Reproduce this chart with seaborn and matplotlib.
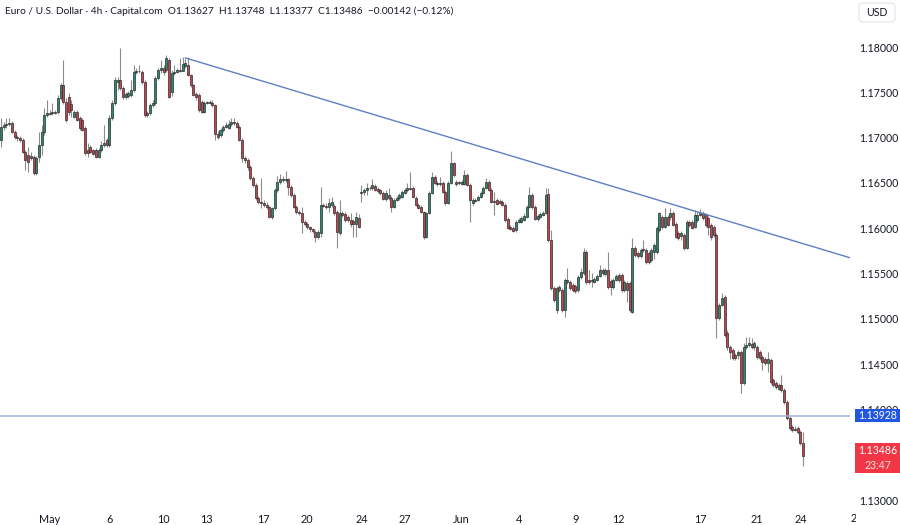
import numpy as np
import pandas as pd
import matplotlib
matplotlib.use("Agg")
import matplotlib.pyplot as plt
import seaborn as sns
from matplotlib.patches import FancyBboxPatch, Rectangle

# ---------------- data (EUR/USD, 4h candles) ----------------
opens = [
    1.1697, 1.1712, 1.1714, 1.1715, 1.1716, 1.1706, 1.1701, 1.1700, 1.1697, 1.1684,
    1.1681, 1.1678, 1.1679, 1.1661, 1.1679, 1.1692, 1.1706, 1.1725, 1.1727, 1.1727,
    1.1728, 1.1728, 1.1744, 1.1758, 1.1739, 1.1745, 1.1737, 1.1723, 1.1728, 1.1722,
    1.1719, 1.1711, 1.1686, 1.1690, 1.1686, 1.1686, 1.1679, 1.1686, 1.1692, 1.1697,
    1.1692, 1.1722, 1.1738, 1.1761, 1.1764, 1.1755, 1.1745, 1.1746, 1.1747, 1.1753,
    1.1772, 1.1773, 1.1772, 1.1761, 1.1727, 1.1727, 1.1736, 1.1738, 1.1766, 1.1775,
    1.1777, 1.1775, 1.1786, 1.1750, 1.1771, 1.1772, 1.1775, 1.1774, 1.1779, 1.1780,
    1.1769, 1.1758, 1.1748, 1.1747, 1.1739, 1.1728, 1.1738, 1.1739, 1.1738, 1.1736,
    1.1704, 1.1703, 1.1708, 1.1712,
    1.1711, 1.1715, 1.1717, 1.1716, 1.1712, 1.1697, 1.1678, 1.1675, 1.1668, 1.1655,
    1.1648, 1.1633, 1.1629, 1.1628, 1.1626, 1.1624, 1.1612, 1.1622, 1.1642, 1.1651,
    1.1653, 1.1653, 1.1654, 1.1646, 1.1637, 1.1624, 1.1618, 1.1617, 1.1607, 1.1605,
    1.1601, 1.1599, 1.1596, 1.1590, 1.1595, 1.1626, 1.1625, 1.1624, 1.1626, 1.1625,
    1.1618, 1.1595, 1.1617, 1.1616, 1.1612, 1.1609, 1.1608, 1.1605, 1.1611,
    1.1639, 1.1640, 1.1642, 1.1644, 1.1645, 1.1647, 1.1643, 1.1642, 1.1639, 1.1632,
    1.1637, 1.1633, 1.1624, 1.1631,
    1.1633, 1.1635, 1.1639, 1.1642, 1.1644, 1.1644, 1.1633, 1.1626, 1.1624, 1.1618,
    1.1590, 1.1617, 1.1639, 1.1657, 1.1650, 1.1649, 1.1650, 1.1640, 1.1628, 1.1650,
    1.1672, 1.1651, 1.1650, 1.1649, 1.1649, 1.1659, 1.1648, 1.1628, 1.1630, 1.1631,
    1.1635, 1.1639, 1.1644, 1.1651, 1.1642, 1.1630, 1.1631, 1.1630, 1.1629, 1.1626,
    1.1610, 1.1601, 1.1600, 1.1598, 1.1607, 1.1607, 1.1609, 1.1612, 1.1624, 1.1637,
    1.1624, 1.1610, 1.1612, 1.1615, 1.1617, 1.1638, 1.1587,
    1.1534, 1.1510, 1.1535, 1.1532, 1.1510, 1.1541, 1.1541, 1.1537, 1.1536, 1.1532,
    1.1546, 1.1551, 1.1574, 1.1543, 1.1542, 1.1541, 1.1543, 1.1547, 1.1554, 1.1550,
    1.1554, 1.1542, 1.1535, 1.1543, 1.1549, 1.1549, 1.1532, 1.1540, 1.1540, 1.1508,
    1.1578, 1.1573, 1.1569, 1.1576, 1.1576, 1.1573, 1.1565, 1.1574, 1.1574, 1.1598,
    1.1612, 1.1601, 1.1612, 1.1612, 1.1617, 1.1605, 1.1595, 1.1592, 1.1593, 1.1578,
    1.1607, 1.1607, 1.1601, 1.1609, 1.1615, 1.1617, 1.1615, 1.1611, 1.1604, 1.1601,
    1.1593, 1.1501, 1.1515, 1.1524, 1.1485, 1.1469, 1.1466, 1.1460, 1.1460, 1.1464,
    1.1429, 1.1469, 1.1471, 1.1472, 1.1469, 1.1469, 1.1464, 1.1458, 1.1456, 1.1451,
    1.1455, 1.1433, 1.1429, 1.1423, 1.1427, 1.1422, 1.1408, 1.1391, 1.1381, 1.1379,
    1.1380, 1.1375, 1.13627,
]
highs = [
    1.1722, 1.1717, 1.1722, 1.1722, 1.1718, 1.1708, 1.1703, 1.1702, 1.1700, 1.1686,
    1.1690, 1.1684, 1.1681, 1.1680, 1.1706, 1.1714, 1.1733, 1.1741, 1.1730, 1.1738,
    1.1730, 1.1747, 1.1760, 1.1786, 1.1744, 1.1749, 1.1741, 1.1730, 1.1730, 1.1724,
    1.1722, 1.1713, 1.1694, 1.1692, 1.1687, 1.1689, 1.1689, 1.1696, 1.1714, 1.1700,
    1.1725, 1.1741, 1.1767, 1.1767, 1.1799, 1.1757, 1.1750, 1.1751, 1.1764, 1.1780,
    1.1777, 1.1780, 1.1775, 1.1764, 1.1729, 1.1738, 1.1741, 1.1768, 1.1777, 1.1786,
    1.1780, 1.1791, 1.1788, 1.1775, 1.1780, 1.1777, 1.1788, 1.1789, 1.1787, 1.1789,
    1.1770, 1.1759, 1.1750, 1.1749, 1.1741, 1.1740, 1.1740, 1.1741, 1.1741, 1.1737,
    1.1707, 1.1711, 1.1714, 1.1717,
    1.1719, 1.1722, 1.1722, 1.1718, 1.1714, 1.1700, 1.1680, 1.1678, 1.1670, 1.1658,
    1.1650, 1.1636, 1.1655, 1.1631, 1.1629, 1.1625, 1.1624, 1.1644, 1.1658, 1.1660,
    1.1658, 1.1663, 1.1655, 1.1648, 1.1639, 1.1626, 1.1620, 1.1624, 1.1609, 1.1607,
    1.1603, 1.1600, 1.1598, 1.1598, 1.1646, 1.1628, 1.1628, 1.1633, 1.1635, 1.1627,
    1.1620, 1.1631, 1.1619, 1.1618, 1.1615, 1.1617, 1.1610, 1.1618, 1.1616,
    1.1648, 1.1644, 1.1650, 1.1647, 1.1654, 1.1649, 1.1646, 1.1643, 1.1641, 1.1642,
    1.1644, 1.1636, 1.1633, 1.1636,
    1.1639, 1.1642, 1.1644, 1.1650, 1.1662, 1.1647, 1.1636, 1.1628, 1.1626, 1.1619,
    1.1618, 1.1641, 1.1662, 1.1659, 1.1652, 1.1657, 1.1652, 1.1642, 1.1652, 1.1685,
    1.1673, 1.1653, 1.1652, 1.1653, 1.1664, 1.1661, 1.1650, 1.1633, 1.1633, 1.1637,
    1.1641, 1.1647, 1.1655, 1.1653, 1.1644, 1.1640, 1.1633, 1.1632, 1.1631, 1.1628,
    1.1612, 1.1604, 1.1603, 1.1609, 1.1611, 1.1614, 1.1617, 1.1626, 1.1646, 1.1639,
    1.1626, 1.1616, 1.1618, 1.1619, 1.1644, 1.1644, 1.1598,
    1.1536, 1.1536, 1.1537, 1.1534, 1.1545, 1.1556, 1.1543, 1.1540, 1.1539, 1.1549,
    1.1556, 1.1578, 1.1576, 1.1554, 1.1551, 1.1546, 1.1550, 1.1560, 1.1556, 1.1556,
    1.1574, 1.1544, 1.1545, 1.1550, 1.1551, 1.1551, 1.1543, 1.1542, 1.1542, 1.1589,
    1.1581, 1.1575, 1.1578, 1.1587, 1.1578, 1.1575, 1.1578, 1.1584, 1.1603, 1.1618,
    1.1615, 1.1622, 1.1615, 1.1622, 1.1619, 1.1607, 1.1597, 1.1597, 1.1595, 1.1609,
    1.1609, 1.1609, 1.1620, 1.1618, 1.1621, 1.1619, 1.1617, 1.1614, 1.1606, 1.1604,
    1.1595, 1.1518, 1.1529, 1.1526, 1.1488, 1.1471, 1.1468, 1.1462, 1.1466, 1.1466,
    1.1474, 1.1480, 1.1480, 1.1479, 1.1476, 1.1471, 1.1466, 1.1460, 1.1458, 1.1464,
    1.1457, 1.1435, 1.1432, 1.1429, 1.1438, 1.1424, 1.1411, 1.1393, 1.1383, 1.1382,
    1.1382, 1.1378, 1.13748,
]
lows = [
    1.1690, 1.1708, 1.1711, 1.1713, 1.1705, 1.1698, 1.1696, 1.1695, 1.1683, 1.1664,
    1.1662, 1.1675, 1.1659, 1.1659, 1.1673, 1.1681, 1.1703, 1.1723, 1.1725, 1.1725,
    1.1726, 1.1726, 1.1741, 1.1737, 1.1717, 1.1725, 1.1723, 1.1722, 1.1718, 1.1708,
    1.1707, 1.1681, 1.1679, 1.1683, 1.1681, 1.1678, 1.1678, 1.1684, 1.1690, 1.1690,
    1.1690, 1.1719, 1.1736, 1.1753, 1.1753, 1.1743, 1.1743, 1.1744, 1.1745, 1.1750,
    1.1770, 1.1771, 1.1759, 1.1723, 1.1723, 1.1725, 1.1734, 1.1736, 1.1764, 1.1771,
    1.1769, 1.1772, 1.1744, 1.1746, 1.1769, 1.1771, 1.1772, 1.1773, 1.1777, 1.1768,
    1.1756, 1.1746, 1.1741, 1.1728, 1.1727, 1.1727, 1.1737, 1.1737, 1.1734, 1.1697,
    1.1698, 1.1701, 1.1706, 1.1711,
    1.1710, 1.1713, 1.1714, 1.1711, 1.1696, 1.1673, 1.1672, 1.1664, 1.1653, 1.1646,
    1.1631, 1.1627, 1.1622, 1.1624, 1.1621, 1.1611, 1.1610, 1.1620, 1.1640, 1.1649,
    1.1651, 1.1651, 1.1637, 1.1635, 1.1622, 1.1616, 1.1615, 1.1595, 1.1603, 1.1599,
    1.1596, 1.1595, 1.1585, 1.1588, 1.1590, 1.1624, 1.1621, 1.1618, 1.1624, 1.1615,
    1.1578, 1.1593, 1.1612, 1.1607, 1.1607, 1.1601, 1.1590, 1.1590, 1.1600,
    1.1629, 1.1637, 1.1637, 1.1642, 1.1642, 1.1641, 1.1639, 1.1637, 1.1631, 1.1630,
    1.1631, 1.1618, 1.1622, 1.1630,
    1.1631, 1.1633, 1.1638, 1.1640, 1.1642, 1.1633, 1.1625, 1.1621, 1.1617, 1.1588,
    1.1589, 1.1616, 1.1638, 1.1649, 1.1647, 1.1647, 1.1639, 1.1626, 1.1627, 1.1649,
    1.1657, 1.1647, 1.1648, 1.1648, 1.1648, 1.1647, 1.1607, 1.1626, 1.1629, 1.1630,
    1.1633, 1.1638, 1.1643, 1.1641, 1.1628, 1.1615, 1.1626, 1.1627, 1.1625, 1.1607,
    1.1599, 1.1598, 1.1596, 1.1596, 1.1606, 1.1606, 1.1608, 1.1611, 1.1622, 1.1621,
    1.1609, 1.1608, 1.1611, 1.1614, 1.1616, 1.1585, 1.1532,
    1.1519, 1.1507, 1.1530, 1.1508, 1.1502, 1.1539, 1.1532, 1.1530, 1.1529, 1.1530,
    1.1544, 1.1549, 1.1539, 1.1539, 1.1535, 1.1540, 1.1542, 1.1546, 1.1549, 1.1547,
    1.1533, 1.1526, 1.1533, 1.1542, 1.1541, 1.1530, 1.1530, 1.1519, 1.1508, 1.1507,
    1.1568, 1.1567, 1.1567, 1.1574, 1.1561, 1.1561, 1.1563, 1.1566, 1.1572, 1.1596,
    1.1599, 1.1600, 1.1603, 1.1609, 1.1603, 1.1589, 1.1587, 1.1587, 1.1576, 1.1577,
    1.1601, 1.1599, 1.1600, 1.1607, 1.1614, 1.1609, 1.1601, 1.1593, 1.1587, 1.1590,
    1.1479, 1.1499, 1.1514, 1.1480, 1.1466, 1.1456, 1.1455, 1.1455, 1.1456, 1.1418,
    1.1427, 1.1467, 1.1469, 1.1467, 1.1466, 1.1456, 1.1455, 1.1444, 1.1449, 1.1442,
    1.1428, 1.1425, 1.1423, 1.1422, 1.1419, 1.1406, 1.1389, 1.1378, 1.1375, 1.1376,
    1.1373, 1.1361, 1.13377,
]
closes = [
    1.1712, 1.1714, 1.1715, 1.1716, 1.1706, 1.1701, 1.1700, 1.1697, 1.1684, 1.1675,
    1.1673, 1.1680, 1.1661, 1.1678, 1.1692, 1.1706, 1.1725, 1.1727, 1.1726, 1.1728,
    1.1727, 1.1744, 1.1758, 1.1739, 1.1719, 1.1728, 1.1730, 1.1728, 1.1719, 1.1711,
    1.1708, 1.1683, 1.1683, 1.1684, 1.1682, 1.1679, 1.1686, 1.1692, 1.1694, 1.1692,
    1.1722, 1.1738, 1.1764, 1.1764, 1.1755, 1.1745, 1.1748, 1.1749, 1.1753, 1.1772,
    1.1773, 1.1774, 1.1761, 1.1725, 1.1725, 1.1736, 1.1738, 1.1766, 1.1775, 1.1777,
    1.1772, 1.1788, 1.1745, 1.1771, 1.1772, 1.1775, 1.1774, 1.1781, 1.1782, 1.1769,
    1.1758, 1.1747, 1.1745, 1.1730, 1.1728, 1.1738, 1.1739, 1.1738, 1.1736, 1.1704,
    1.1701, 1.1708, 1.1712, 1.1714,
    1.1715, 1.1717, 1.1716, 1.1712, 1.1697, 1.1678, 1.1675, 1.1668, 1.1655, 1.1648,
    1.1633, 1.1629, 1.1628, 1.1626, 1.1624, 1.1612, 1.1622, 1.1642, 1.1651, 1.1654,
    1.1654, 1.1654, 1.1646, 1.1637, 1.1624, 1.1618, 1.1617, 1.1607, 1.1605, 1.1601,
    1.1599, 1.1597, 1.1590, 1.1596, 1.1626, 1.1625, 1.1624, 1.1628, 1.1629, 1.1617,
    1.1596, 1.1617, 1.1615, 1.1609, 1.1609, 1.1605, 1.1605, 1.1612, 1.1601,
    1.1640, 1.1642, 1.1644, 1.1645, 1.1648, 1.1642, 1.1641, 1.1639, 1.1632, 1.1639,
    1.1633, 1.1624, 1.1631, 1.1633,
    1.1637, 1.1640, 1.1642, 1.1644, 1.1643, 1.1635, 1.1626, 1.1622, 1.1618, 1.1590,
    1.1617, 1.1639, 1.1657, 1.1650, 1.1649, 1.1650, 1.1640, 1.1628, 1.1650, 1.1672,
    1.1659, 1.1649, 1.1651, 1.1651, 1.1659, 1.1648, 1.1631, 1.1631, 1.1631, 1.1635,
    1.1639, 1.1644, 1.1651, 1.1642, 1.1629, 1.1629, 1.1627, 1.1628, 1.1626, 1.1609,
    1.1600, 1.1599, 1.1597, 1.1607, 1.1609, 1.1611, 1.1614, 1.1624, 1.1637, 1.1624,
    1.1610, 1.1614, 1.1616, 1.1617, 1.1637, 1.1587, 1.1534,
    1.1521, 1.1534, 1.1532, 1.1510, 1.1543, 1.1543, 1.1534, 1.1532, 1.1531, 1.1546,
    1.1552, 1.1574, 1.1541, 1.1541, 1.1543, 1.1544, 1.1547, 1.1554, 1.1551, 1.1554,
    1.1535, 1.1535, 1.1543, 1.1547, 1.1543, 1.1532, 1.1541, 1.1532, 1.1510, 1.1578,
    1.1571, 1.1569, 1.1576, 1.1577, 1.1563, 1.1563, 1.1576, 1.1582, 1.1600, 1.1617,
    1.1601, 1.1612, 1.1604, 1.1617, 1.1604, 1.1590, 1.1589, 1.1595, 1.1578, 1.1607,
    1.1604, 1.1600, 1.1615, 1.1615, 1.1617, 1.1611, 1.1604, 1.1601, 1.1590, 1.1593,
    1.1501, 1.1515, 1.1523, 1.1482, 1.1469, 1.1464, 1.1457, 1.1457, 1.1464, 1.1429,
    1.1469, 1.1471, 1.1474, 1.1469, 1.1474, 1.1458, 1.1457, 1.1453, 1.1451, 1.1456,
    1.1430, 1.1427, 1.1425, 1.1427, 1.1422, 1.1408, 1.1391, 1.1380, 1.1378, 1.1378,
    1.1375, 1.1363, 1.13486,
]

date_tick_pos = [18, 40, 60, 76, 97, 113, 133, 149, 170, 191, 212, 228, 258, 279, 295]
date_tick_labels = ["May", "6", "10", "13", "17", "20", "24", "27", "Jun",
                    "4", "9", "12", "17", "21", "24"]
price_ticks = [1.130, 1.140, 1.145, 1.150, 1.155, 1.160, 1.165,
               1.170, 1.175, 1.180]
trend_idx = [68, 315]
trend_price = [1.1788, 1.1566]
support_price = 1.13928
last_price = 1.13486
title_text = ("Euro / U.S. Dollar \u00b7 4h \u00b7 Capital.com  O1.13627  H1.13748  "
              "L1.13377  C1.13486  \u22120.00142 (\u22120.12%)")

# ---------------- figure ----------------
sns.set_theme(style="white")
plt.rcParams["font.family"] = ["Lato", "DejaVu Sans"]

W, H = 900, 525
fig = plt.figure(figsize=(9, 5.25), dpi=100)
fig.patch.set_facecolor("white")
ax = fig.add_axes([0, 15 / H, 850 / W, 510 / H])
ax.set_facecolor("white")

df = pd.DataFrame({"idx": np.arange(len(closes)), "o": opens, "h": highs,
                   "l": lows, "c": closes})
up = df["c"] >= df["o"]
body_col = np.where(up, "#2a8c72", "#c8444f")
body_low = df[["o", "c"]].min(axis=1)
body_h = (df["c"] - df["o"]).abs().clip(lower=0.00004)

ax.vlines(df["idx"], df["l"], df["h"], color="#8c8c8c", lw=0.8, zorder=1)
ax.bar(df["idx"], body_h, bottom=body_low, width=0.74, color=body_col,
       edgecolor="#2b2b2b", linewidth=0.5, zorder=2)

# trend line (seaborn)
sns.lineplot(x=trend_idx, y=trend_price, ax=ax, color="#5d7fc4", lw=1.0, zorder=3)
ax.axhline(support_price, color="#9fb2d2", lw=1.1, zorder=3)

ymin = 1.18 + 47 / 9066
ymax = 1.18 - 463 / 9066
ax.set_ylim(ymax, ymin)
ax.set_xlim(-0.37, 313.3)

for s in ax.spines.values():
    s.set_visible(False)
ax.yaxis.tick_right()
ax.set_yticks(price_ticks)
ax.set_yticklabels([f"{p:.5f}" for p in price_ticks])
ax.tick_params(axis="y", length=0, pad=6.5, labelsize=7.6, labelcolor="#131722")
ax.set_xticks(date_tick_pos)
ax.set_xticklabels(date_tick_labels)
ax.tick_params(axis="x", length=0, pad=3, labelsize=7.8, labelcolor="#131722")
ax.grid(False)
ax.set_xlabel("")
ax.set_ylabel("")

# cut-off "28" label at right edge
fig.text(851 / W, 1 - 518 / H, "28", ha="left", va="center", fontsize=7.8,
         color="#131722")
fig.patches.append(Rectangle((856 / W, 0), 44 / W, 14 / H, transform=fig.transFigure,
                             facecolor="white", edgecolor="none", zorder=5))

# title
fig.text(5 / W, 1 - 11 / H, title_text, ha="left", va="center", fontsize=7.3,
         color="#131722")

# USD box
fig.patches.append(FancyBboxPatch((859 / W, 1 - 22 / H), 36 / W, 19 / H,
                                  boxstyle="round,pad=0,rounding_size=0.006",
                                  transform=fig.transFigure, facecolor="white",
                                  edgecolor="#e0e3eb", lw=0.8, zorder=6))
fig.text(877 / W, 1 - 12.5 / H, "USD", ha="center", va="center", fontsize=7.6,
         color="#131722", zorder=7)

# support label
fig.patches.append(Rectangle((855 / W, 1 - 422 / H), 45 / W, 13 / H,
                             transform=fig.transFigure, facecolor="#2157e0",
                             edgecolor="none", zorder=6))
fig.text(877.5 / W, 1 - 415.5 / H, f"{support_price:.5f}", ha="center", va="center",
         fontsize=7.6, color="white", zorder=7)

# last price label
fig.patches.append(Rectangle((855 / W, 1 - 473 / H), 45 / W, 30 / H,
                             transform=fig.transFigure, facecolor="#f23645",
                             edgecolor="none", zorder=6))
fig.text(877.5 / W, 1 - 450.5 / H, f"{last_price:.5f}", ha="center", va="center",
         fontsize=7.6, color="white", zorder=7)
fig.text(877.5 / W, 1 - 465.5 / H, "23:47", ha="center", va="center",
         fontsize=7.6, color="white", alpha=0.85, zorder=7)

fig.savefig("out.png", dpi=100, facecolor="white")
